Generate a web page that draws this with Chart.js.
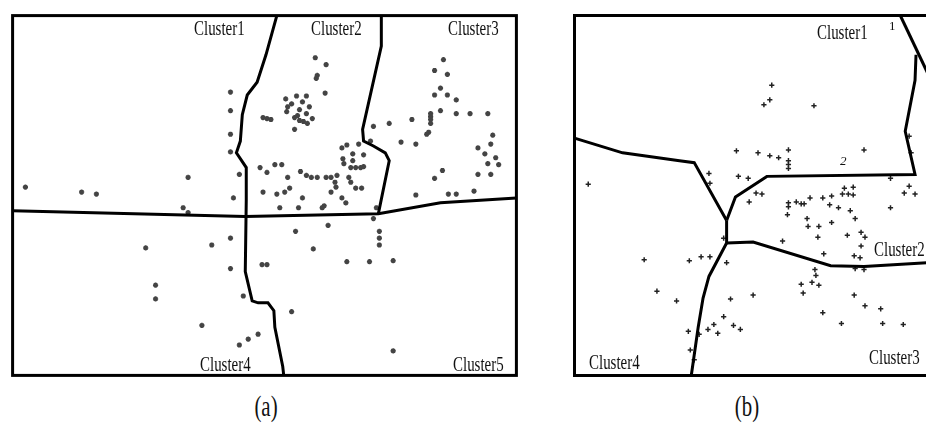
<!DOCTYPE html>
<html>
<head>
<meta charset="utf-8">
<title>Cluster boundaries (a) / (b)</title>
<script src="https://cdn.jsdelivr.net/npm/chart.js@4/dist/chart.umd.min.js"></script>
<style>
    html, body { margin: 0; padding: 0; background: #fff; }
    body { width: 926px; height: 433px; position: relative; overflow: hidden; }
    .panel { position: absolute; }
    .label {
        position: absolute;
        font-family: "Liberation Serif", "DejaVu Serif", serif;
        font-size: 22px;
        line-height: 22px;
        color: #111;
        white-space: nowrap;
        transform-origin: left top;
        transform: scaleX(0.68);
    }
    .tiny { font-size: 13px; line-height: 13px; transform: none; }
    .caption {
        position: absolute;
        font-family: "Liberation Serif", "DejaVu Serif", serif;
        font-size: 29px;
        line-height: 29px;
        color: #111;
        transform-origin: center top;
        transform: translateX(-50%) scaleX(0.72);
    }
</style>
</head>
<body>

<div class="panel" id="wrap-a" style="left:7px; top:10px; width:515px; height:371px;">
    <canvas id="chart-a"></canvas>
</div>
<div class="panel" id="wrap-b" style="left:569px; top:10px; width:380px; height:371px;">
    <canvas id="chart-b"></canvas>
</div>

<!-- cluster names (a) -->
<div class="label" style="left:194px; top:17px;">Cluster1</div>
<div class="label" style="left:311px; top:17px;">Cluster2</div>
<div class="label" style="left:448px; top:17px;">Cluster3</div>
<div class="label" style="left:200px; top:353px;">Cluster4</div>
<div class="label" style="left:453px; top:353px;">Cluster5</div>

<!-- cluster names (b) -->
<div class="label" style="left:817px; top:21px;">Cluster1</div>
<div class="label tiny" style="left:889px; top:19px;">1</div>
<div class="label tiny" style="left:840px; top:154px; font-style:italic;">2</div>
<div class="label" style="left:874px; top:238px;">Cluster2</div>
<div class="label" style="left:869px; top:346px;">Cluster3</div>
<div class="label" style="left:589px; top:351px;">Cluster4</div>

<div class="caption" style="left:266px; top:392px;">(a)</div>
<div class="caption" style="left:747px; top:392px;">(b)</div>

<script>
// ----------------------------------------------------------------------
// Data (panel units: x to the right, y downward)
// ----------------------------------------------------------------------
const rangeA = { xMin: 9, xMax: 520, yMin: 12, yMax: 379 };
const rangeB = { xMin: 571, xMax: 947, yMin: 12, yMax: 379 };

// samples in panel (a)
const samplesA = [
    [22,187],[79,192],[94,194],[187,177],[182,208],[187,213],[230,90],[230,109],[230,133],[230,151],[239,174],[233,198],
    [316,55],[327,62],[317,76],[318,73],[326,91],
    [286,97],[297,94],[307,94],[292,102],[303,100],[310,105],[287,110],[300,108],[307,112],[313,117],[295,116],
    [300,119],[304,120],[308,122],[295,128],[288,105],[298,114],
    [263,116],[267,117],[271,118],
    [343,147],[348,144],[360,143],[354,153],[365,154],[344,158],[345,163],[354,160],[352,167],[357,167],[362,167],[365,166],
    [260,167],[267,172],[275,164],[282,164],
    [288,177],[301,171],[307,175],[312,177],[318,177],[327,177],[332,177],[338,175],[336,182],[337,187],[350,177],[352,182],
    [332,192],[357,188],[363,188],[263,192],[277,194],[285,192],[290,188],[303,198],[343,198],[347,203],
    [280,208],[299,208],[325,206],[378,208],[323,208],
    [375,125],[391,122],[372,140],[446,57],[437,68],[450,72],[443,86],[437,93],[450,93],[459,98],
    [443,109],[459,112],[473,112],[491,112],[433,112],[433,115],[433,118],[433,122],[414,118],[431,131],[429,133],
    [403,141],[418,143],[496,134],[494,143],[481,147],[488,153],[499,157],[491,163],[502,164],[481,174],[494,174],
    [445,170],[437,178],[418,195],[451,194],[459,194],[477,191],
    [230,239],[211,246],[144,249],[230,270],[154,287],[154,301],[243,298],[201,328],[258,337],[248,342],[239,348],
    [262,266],[267,266],
    [375,219],[329,226],[296,232],[381,232],[381,239],[381,246],[314,250],[348,263],[371,263],[395,262],
    [292,314],[395,354]
];

// boundaries in panel (a)
const borderA1 = [[277,12],[266,52],[257,80],[247,93],[242,113],[240,140],[236,152],[246,167],[246,200],
                  [245,273],[252,303],[258,305],[268,305],[274,313],[275,330],[283,370],[284,379]];
const borderA2 = [[9,211],[245,217],[380,214],[443,203],[520,198]];
const borderA3 = [[383,12],[383,43],[364,128],[365,140],[375,145],[387,152],[391,160],[380,214]];

// samples in panel (b)
const samplesB = [
    [772,83],[770,98],[764,103],[815,104],
    [736,150],[758,152],[770,155],[779,157],[789,149],[789,160],[789,164],[789,168],[866,149],[912,135],[914,152],
    [708,173],[709,183],[738,176],[748,178],[585,184],
    [756,193],[762,194],[749,202],
    [789,203],[789,207],[788,215],[797,202],[802,204],[805,204],[811,198],[824,198],[833,196],[831,205],[840,208],
    [852,211],[846,188],[855,187],[844,194],[850,194],[855,195],[893,208],[893,178],[912,186],[907,193],[918,194],
    [808,219],[809,227],[820,227],[833,223],[857,219],[849,236],[863,233],[867,238],[863,247],[819,238],[783,242],
    [825,255],[856,257],[862,259],[857,270],[866,271],
    [723,239],[700,258],[709,258],[726,264],[642,261],[655,293],[675,303],[688,262],
    [816,271],[817,277],[813,284],[820,287],[802,286],[804,295],[753,297],[730,301],[856,297],[867,308],[883,311],
    [824,315],[843,326],[885,326],[906,327],
    [723,319],[713,327],[707,332],[717,336],[733,328],[740,332],[687,334],[698,337],[689,353],[693,363]
];

// boundaries in panel (b)
const borderB1 = [[571,137],[620,152],[678,160],[693,162],[726,221]];
const borderB2 = [[726,221],[735,197],[767,176],[918,174],[908,130],[918,78],[919,52]];
const borderB3 = [[903,12],[940,90]];
const borderB4 = [[726,221],[726,244]];
const borderB5 = [[726,244],[753,243],[832,267],[866,268],[947,263]];
const borderB6 = [[726,244],[708,278],[702,300],[697,330],[690,379]];

// ----------------------------------------------------------------------
// Helpers
// ----------------------------------------------------------------------
const toXY = list => list.map(p => ({ x: p[0], y: p[1] }));

// frame around the plot area
const framePlugin = {
    id: 'frame',
    afterDatasetsDraw(chart) {
        const a = chart.chartArea;
        const ctx = chart.ctx;
        ctx.save();
        ctx.strokeStyle = '#000';
        ctx.lineWidth = 3;
        ctx.strokeRect(a.left, a.top, a.right - a.left, a.bottom - a.top);
        ctx.restore();
    }
};

function lineSet(points) {
    return {
        data: toXY(points),
        showLine: true,
        borderColor: '#000',
        borderWidth: 3,
        pointRadius: 0,
        tension: 0,
        fill: false,
        order: 0
    };
}

/**
 * one panel = scatter samples + boundary polylines
 */
function drawPanel(canvasId, range, samples, borders, marker) {
    const ctx = document.getElementById(canvasId).getContext('2d');
    return new Chart(ctx, {
        type: 'scatter',
        data: {
            datasets: [
                Object.assign({ data: toXY(samples), order: 1 }, marker),
                ...borders.map(lineSet)
            ]
        },
        options: {
            responsive: true,
            maintainAspectRatio: false,
            animation: false,
            layout: { padding: 2 },
            scales: {
                x: { type: 'linear', display: false, min: range.xMin, max: range.xMax },
                y: { type: 'linear', display: false, min: range.yMin, max: range.yMax, reverse: true }
            },
            plugins: {
                legend: { display: false },
                tooltip: { enabled: false }
            }
        },
        plugins: [framePlugin]
    });
}

drawPanel('chart-a', rangeA, samplesA, [borderA1, borderA2, borderA3], {
    pointStyle: 'star',
    pointRadius: 2.6,
    borderWidth: 1.6,
    borderColor: '#444',
    backgroundColor: '#444'
});

drawPanel('chart-b', rangeB, samplesB, [borderB1, borderB2, borderB3, borderB4, borderB5, borderB6], {
    pointStyle: 'cross',
    pointRadius: 2.6,
    borderWidth: 1.5,
    borderColor: '#222',
    backgroundColor: '#222'
});
</script>
</body>
</html>
